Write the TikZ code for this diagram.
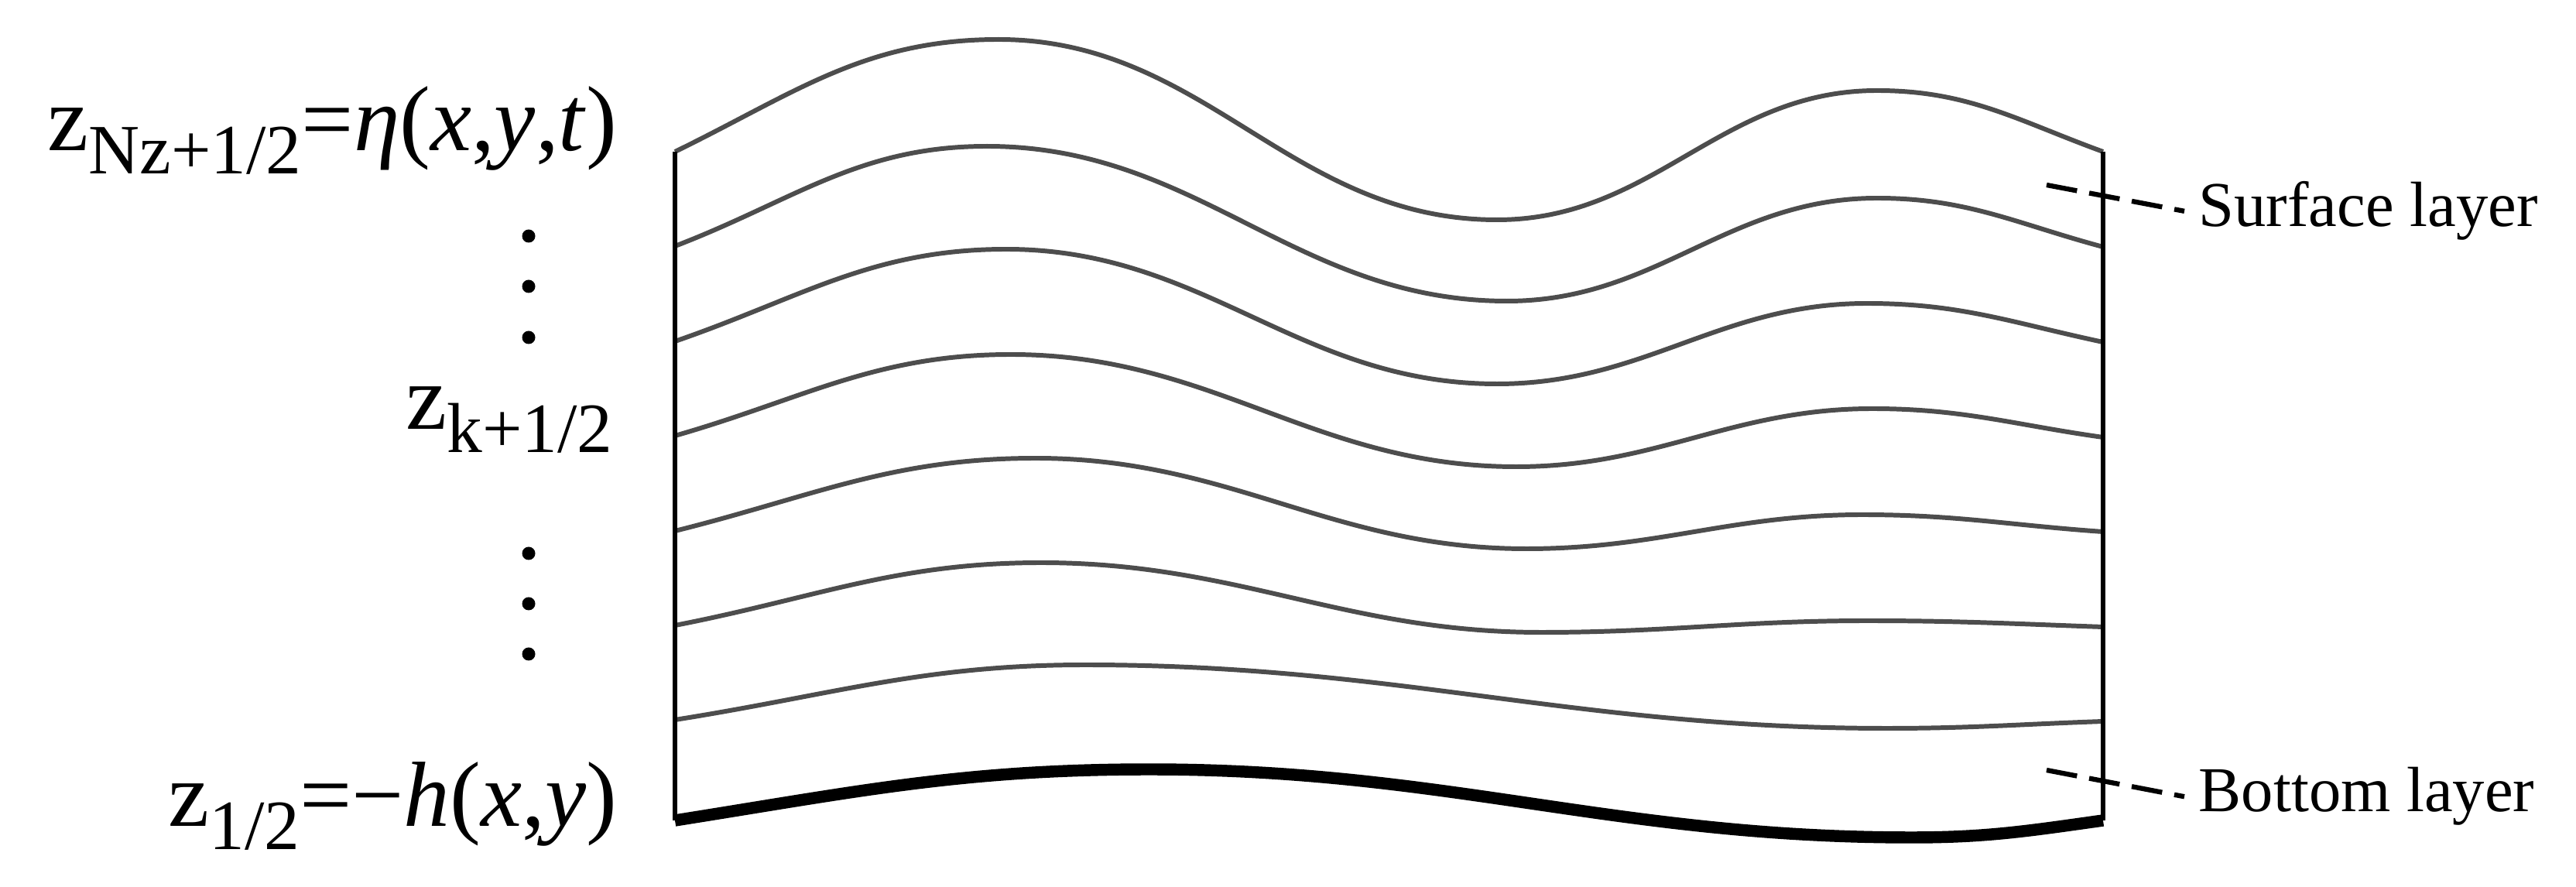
\documentclass[tikz,border=0pt]{standalone}
\usepackage{fontspec}
\setmainfont{Liberation Serif}
\usepackage{tikz}
\usetikzlibrary{positioning,calc}
\definecolor{layergray}{HTML}{4D4D4D}
\newcommand{\lowsub}[1]{\raisebox{-0.30cm}{\fontsize{26}{26}\selectfont #1}}

\begin{document}
\begin{tikzpicture}[
    layer/.style={draw=layergray, line width=1.7pt},
    bed/.style={draw=black, line width=4.4pt},
    side/.style={draw=black, line width=1.8pt},
    leader/.style={draw=black, line width=1.8pt, dash pattern=on 0.40cm off 0.16cm},
    lab/.style={font=\fontsize{23.5}{28}\selectfont, inner sep=0.18cm, anchor=base west},
    zlab/.style={font=\fontsize{34}{38}\selectfont, inner sep=0pt, anchor=base east}
]
\useasboundingbox (0,0) rectangle (33.28,11.46);

% ---- Corners of the column ----
\coordinate (lt) at (8.72,9.50);
\coordinate (lb) at (8.72,0.86);
\coordinate (rt) at (27.17,9.50);
\coordinate (rb) at (27.17,0.86);

% ---- Layer interfaces ----
\draw[layer] (lt) to[out=26,in=180] (12.90,10.95) to[out=0,in=180] (19.34,8.62) to[out=0,in=180] (24.25,10.29) to[out=0,in=160] (rt);
\draw[layer] (8.72,8.28) to[out=21,in=180] (12.75,9.57) to[out=0,in=180] (19.47,7.57) to[out=0,in=180] (24.25,8.90) to[out=0,in=165] (27.17,8.27);
\draw[layer] (8.72,7.05) to[out=19,in=180] (13.00,8.24) to[out=0,in=180] (19.34,6.50) to[out=0,in=180] (24.12,7.54) to[out=0,in=168] (27.17,7.04);
\draw[layer] (8.72,5.83) to[out=16,in=180] (13.06,6.88) to[out=0,in=180] (19.59,5.43) to[out=0,in=180] (24.19,6.18) to[out=0,in=172] (27.17,5.81);
\draw[layer] (8.72,4.60) to[out=14,in=180] (13.38,5.54) to[out=0,in=180] (19.72,4.37) to[out=0,in=180] (24.06,4.81) to[out=0,in=176] (27.17,4.59);
\draw[layer] (8.72,3.38) to[out=11,in=180] (13.45,4.19) to[out=0,in=180] (19.91,3.29) to[out=0,in=180] (24.12,3.44) to[out=0,in=178] (27.17,3.36);
\draw[layer] (8.72,2.16) to[out=9,in=180] (14.02,2.87) to[out=0,in=180] (24.38,2.05) to[out=0,in=182] (27.17,2.14);

% ---- Bed and side walls ----
\draw[bed] (lb) to[out=9,in=180] (14.85,1.52) to[out=0,in=180] (24.70,0.64) to[out=0,in=188] (rb);
\draw[side] (lt) -- (lb);
\draw[side] (rt) -- (rb);

% ---- Level labels ----
\node[zlab] (ztop) at (7.98,9.51) {z\lowsub{Nz+1/2}=\textit{η}(\textit{x},\textit{y},\textit{t})};
\node[zlab] (zmid) at (7.92,5.91) {z\lowsub{k+1/2}};
\node[zlab] (zbot) at (7.98,0.78) {z\lowsub{1/2}=−\textit{h}(\textit{x},\textit{y})};
\foreach \y in {8.41,7.76,7.10,4.31,3.66,3.01}
    \fill (6.83,\y) circle (0.085);

% ---- Layer names ----
\coordinate (surfpt) at (26.44,9.07);
\coordinate (botpt) at (26.44,1.51);
\node[lab] (surflab) at (28.22,8.53) {Surface layer};
\node[lab] (botlab) at (28.22,0.97) {Bottom layer};
\draw[leader] (surfpt) -- (surflab.west);
\draw[leader] (botpt) -- (botlab.west);

\end{tikzpicture}
\end{document}
